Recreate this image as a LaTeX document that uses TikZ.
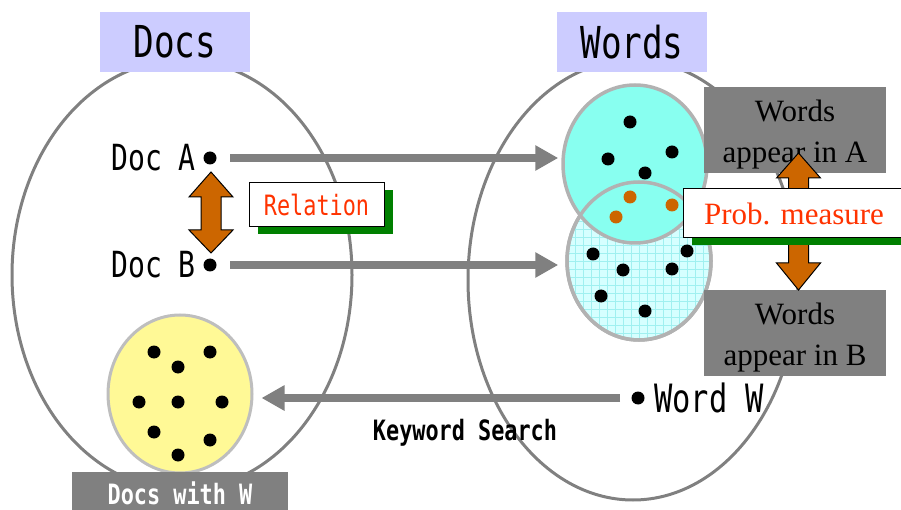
\documentclass[tikz,border=0pt]{standalone}
\usepackage{fontspec}
\usepackage{tikz}
\usetikzlibrary{arrows.meta}
\usetikzlibrary{shapes.geometric}
\usetikzlibrary{shadows}

\setmainfont{Liberation Serif}
\newfontfamily\gothic[FakeStretch=0.78]{DejaVu Sans Mono}

\definecolor{lavender}{RGB}{204,204,255}
\definecolor{boxgray}{RGB}{128,128,128}
\definecolor{ringgray}{RGB}{128,128,128}
\definecolor{rimgray}{RGB}{178,178,178}
\definecolor{cyanA}{RGB}{136,255,240}
\definecolor{cyanB}{RGB}{214,255,255}
\definecolor{gridB}{RGB}{160,240,240}
\definecolor{yellowW}{RGB}{255,249,150}
\definecolor{rust}{RGB}{204,102,0}
\definecolor{redtext}{RGB}{255,51,0}
\definecolor{shadowgreen}{RGB}{0,128,0}

\tikzset{
  bigring/.style={draw=ringgray, line width=3pt},
  setlabel/.style={fill=lavender, minimum width=150pt, minimum height=60pt, inner sep=0pt,
    font=\gothic\fontsize{44}{50}\selectfont},
  wordset/.style={ellipse, minimum width=144pt, minimum height=158pt, inner sep=0pt,
    draw=rimgray, line width=3.5pt},
  blackdot/.style={fill=black},
  orangedot/.style={fill=rust},
  flowarrow/.style={draw=boxgray, line width=8pt, -{Triangle[length=23pt, width=24pt]}},
  graybox/.style={fill=boxgray, minimum width=182pt, minimum height=86pt, inner sep=0pt,
    align=center, font=\fontsize{31}{41}\selectfont},
  notebox/.style={draw=black, fill=white, line width=1pt, text=redtext, inner sep=0pt,
    drop shadow={shadow xshift=9pt, shadow yshift=-7pt, fill=shadowgreen, opacity=1}},
}

\newcommand{\fatarrow}[5]{%
  \filldraw[fill=rust, draw=black, line width=1pt]
    (#1,#2) -- (#1+22,#3) -- (#1+10,#3) -- (#1+10,#4) -- (#1+22,#4) -- (#1,#5)
    -- (#1-22,#4) -- (#1-10,#4) -- (#1-10,#3) -- (#1-22,#3) -- cycle;}

\begin{document}
\begin{tikzpicture}[x=1pt, y=-1pt]
    \useasboundingbox (0,0) rectangle (901,510);

    % the two big sets
    \draw[bigring] (182,275) ellipse [x radius=170pt, y radius=215pt];
    \draw[bigring] (633,280) ellipse [x radius=165pt, y radius=220pt];

    \node[setlabel] (docsLabel) at (175,42) {Docs};
    \node[setlabel] (wordsLabel) at (632,42) {Words};

    \coordinate (docA) at (210,158);
    \coordinate (docB) at (210,265);
    \coordinate (wordW) at (638,398);

    % word sets of A and B
    \node[wordset, fill=cyanB, path picture={
        \draw[gridB, line width=0.6pt, step=8pt] (path picture bounding box.south west)
          grid (path picture bounding box.north east);}] (setB) at (639,261) {};
    \node[wordset, fill=cyanA] (setA) at (635,164) {};
    \draw[draw=rimgray, line width=3.5pt] (setB.center) ellipse [x radius=72pt, y radius=79pt];

    \fill[blackdot] (630,122) circle (6.5pt);
    \fill[blackdot] (608,159) circle (6.5pt);
    \fill[blackdot] (672,152) circle (6.5pt);
    \fill[blackdot] (645,173) circle (6.5pt);
    \fill[orangedot] (630,197) circle (6.5pt);
    \fill[orangedot] (672,205) circle (6.5pt);
    \fill[orangedot] (616,217) circle (6.5pt);
    \fill[blackdot] (593,254) circle (6.5pt);
    \fill[blackdot] (623,270) circle (6.5pt);
    \fill[blackdot] (672,269) circle (6.5pt);
    \fill[blackdot] (687,251) circle (6.5pt);
    \fill[blackdot] (601,296) circle (6.5pt);
    \fill[blackdot] (645,311) circle (6.5pt);

    % docs containing W
    \node[wordset, fill=yellowW, draw=rimgray!85, line width=3pt] (setW) at (180,394) {};
    \fill[blackdot] (154,352) circle (6.5pt);
    \fill[blackdot] (210,352) circle (6.5pt);
    \fill[blackdot] (178,367) circle (6.5pt);
    \fill[blackdot] (139,402) circle (6.5pt);
    \fill[blackdot] (178,402) circle (6.5pt);
    \fill[blackdot] (222,402) circle (6.5pt);
    \fill[blackdot] (154,432) circle (6.5pt);
    \fill[blackdot] (210,440) circle (6.5pt);
    \fill[blackdot] (178,455) circle (6.5pt);

    \node[fill=boxgray, text=white, minimum width=216pt, minimum height=43pt, inner sep=0pt,
      font=\gothic\bfseries\fontsize{28}{32}\selectfont] (docsWithW) at (180,493.5) {Docs with W};

    % documents and the word
    \fill[blackdot] (docA) circle (6.5pt);
    \node (docAText) [left=14pt, inner sep=0pt, font=\gothic\fontsize{36}{40}\selectfont] at (docA) {Doc A};
    \fill[blackdot] (docB) circle (6.5pt);
    \node (docBText) [left=14pt, inner sep=0pt, font=\gothic\fontsize{36}{40}\selectfont] at (docB) {Doc B};
    \fill[blackdot] (wordW) circle (6.5pt);
    \node (wordWText) [right=16pt, inner sep=0pt, font=\gothic\fontsize{39}{43}\selectfont] at (wordW) {Word W};

    \draw[flowarrow, shorten <=20pt, shorten >=3pt] (docA) -- (docA -| setA.west);
    \draw[flowarrow, shorten <=20pt, shorten >=7pt] (docB) -- (docB -| setB.west);
    \draw[flowarrow, shorten <=18pt, shorten >=8pt] (wordW) -- (wordW -| setW.east);
    \node (searchText) [anchor=base, inner sep=0pt, font=\gothic\bfseries\fontsize{28}{32}\selectfont]
      at (465,440) {Keyword Search};

    % relation between A and B
    \fatarrow{211}{172}{197}{230}{253}
    \node[notebox, minimum width=135pt, minimum height=44pt, font=\gothic\fontsize{28}{32}\selectfont]
      (relation) at (316.5,205) {Relation};

    % word distributions
    \node[graybox] (wordsInA) at (795,130) {\rule{0pt}{30pt}Words\\appear in A};
    \node[graybox] (wordsInB) at (795,333) {\rule{0pt}{30pt}Words\\appear in B};
    \fatarrow{798.5}{153}{178}{263}{290}
    \node[notebox, minimum width=222pt, minimum height=49pt, font=\fontsize{31}{36}\selectfont]
      (probMeasure) at (794,213.5) {Prob. measure};

\end{tikzpicture}
\end{document}
